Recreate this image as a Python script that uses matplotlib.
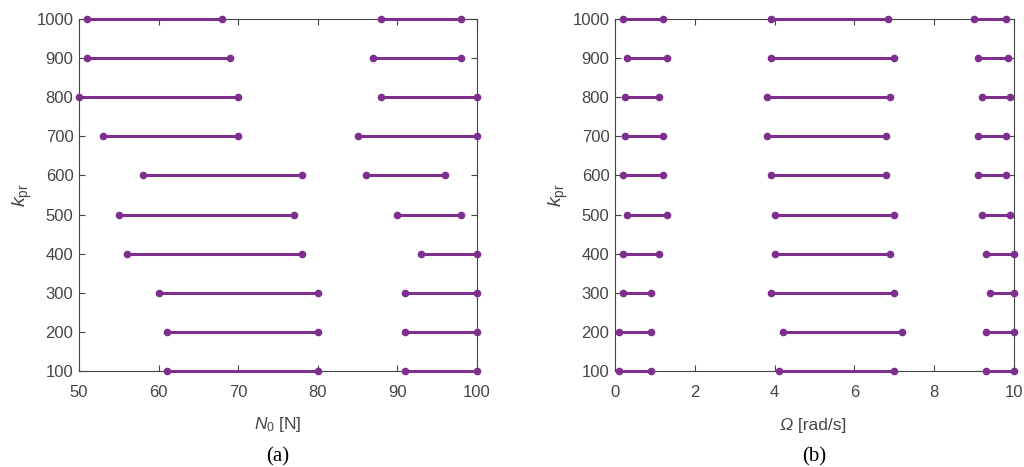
import matplotlib
matplotlib.use("Agg")
import matplotlib.pyplot as plt

kpr = [100, 200, 300, 400, 500, 600, 700, 800, 900, 1000]

# Panel (a): N0 [N] intervals
a_seg1_start = [61, 61, 60, 56, 55, 58, 53, 50, 51, 51]
a_seg1_end   = [80, 80, 80, 78, 77, 78, 70, 70, 69, 68]
a_seg2_start = [91, 91, 91, 93, 90, 86, 85, 88, 87, 88]
a_seg2_end   = [100, 100, 100, 100, 98, 96, 100, 100, 98, 98]

# Panel (b): Omega [rad/s] intervals
b_seg1_start = [0.1, 0.1, 0.2, 0.2, 0.3, 0.2, 0.25, 0.25, 0.3, 0.2]
b_seg1_end   = [0.9, 0.9, 0.9, 1.1, 1.3, 1.2, 1.2, 1.1, 1.3, 1.2]
b_seg2_start = [4.1, 4.2, 3.9, 4.0, 4.0, 3.9, 3.8, 3.8, 3.9, 3.9]
b_seg2_end   = [7.0, 7.2, 7.0, 6.9, 7.0, 6.8, 6.8, 6.9, 7.0, 6.85]
b_seg3_start = [9.3, 9.3, 9.4, 9.3, 9.2, 9.1, 9.1, 9.2, 9.1, 9.0]
b_seg3_end   = [10, 10, 10, 10, 9.9, 9.8, 9.8, 9.9, 9.85, 9.8]

plt.rcParams['font.family'] = ['Liberation Sans', 'DejaVu Sans']
plt.rcParams['mathtext.fontset'] = 'custom'
plt.rcParams['mathtext.rm'] = 'Liberation Sans'
plt.rcParams['mathtext.it'] = 'Liberation Sans:italic'

purple = '#7E2F8E'
gray = '#454545'

fig = plt.figure(figsize=(10.24, 4.67), dpi=100)
axa = fig.add_axes([0.0771, 0.2056, 0.3887, 0.7537])
axb = fig.add_axes([0.6006, 0.2056, 0.3896, 0.7537])

def draw(ax, starts_ends):
    for starts, ends in starts_ends:
        for s, e, k in zip(starts, ends, kpr):
            ax.plot([s, e], [k, k], color=purple, lw=2.2, marker='o', ms=4.5,
                    solid_capstyle='butt', clip_on=False, zorder=3)

draw(axa, [(a_seg1_start, a_seg1_end), (a_seg2_start, a_seg2_end)])
draw(axb, [(b_seg1_start, b_seg1_end), (b_seg2_start, b_seg2_end), (b_seg3_start, b_seg3_end)])

axa.set_xlim(50, 100)
axa.set_xticks([50, 60, 70, 80, 90, 100])
axb.set_xlim(0, 10)
axb.set_xticks([0, 2, 4, 6, 8, 10])

for ax in (axa, axb):
    ax.set_ylim(100, 1000)
    ax.set_yticks(kpr)
    ax.tick_params(direction='in', top=True, right=True, labelsize=12,
                   colors=gray, labelcolor=gray, length=4, width=0.8)
    ax.tick_params(axis='x', pad=10)
    ax.tick_params(axis='y', pad=4)
    for sp in ax.spines.values():
        sp.set_color(gray)
        sp.set_linewidth(0.8)
    ax.set_ylabel(r'$k_{\mathrm{pr}}$', fontsize=14, color=gray, labelpad=2)

axa.set_xlabel(r'$N_0$ [N]', fontsize=12.5, color=gray, labelpad=11)

# Omega label: italic Omega followed by upright unit
t_om = axb.text(0.413, -0.168, 'Ω', style='italic', fontsize=12.5, color=gray,
                ha='left', va='baseline', transform=axb.transAxes)
axb.annotate(' [rad/s]', xy=(1, 0), xycoords=t_om, ha='left', va='bottom',
             fontsize=12.5, color=gray)

fig.text(0.0771 + 0.3887 / 2, 1 - 457 / 467, '(a)', ha='center', va='center',
         fontsize=15, family=['Liberation Serif', 'DejaVu Serif'], color='black')
fig.text(0.6006 + 0.3896 / 2, 1 - 457 / 467, '(b)', ha='center', va='center',
         fontsize=15, family=['Liberation Serif', 'DejaVu Serif'], color='black')

fig.savefig('out.png', dpi=100)
